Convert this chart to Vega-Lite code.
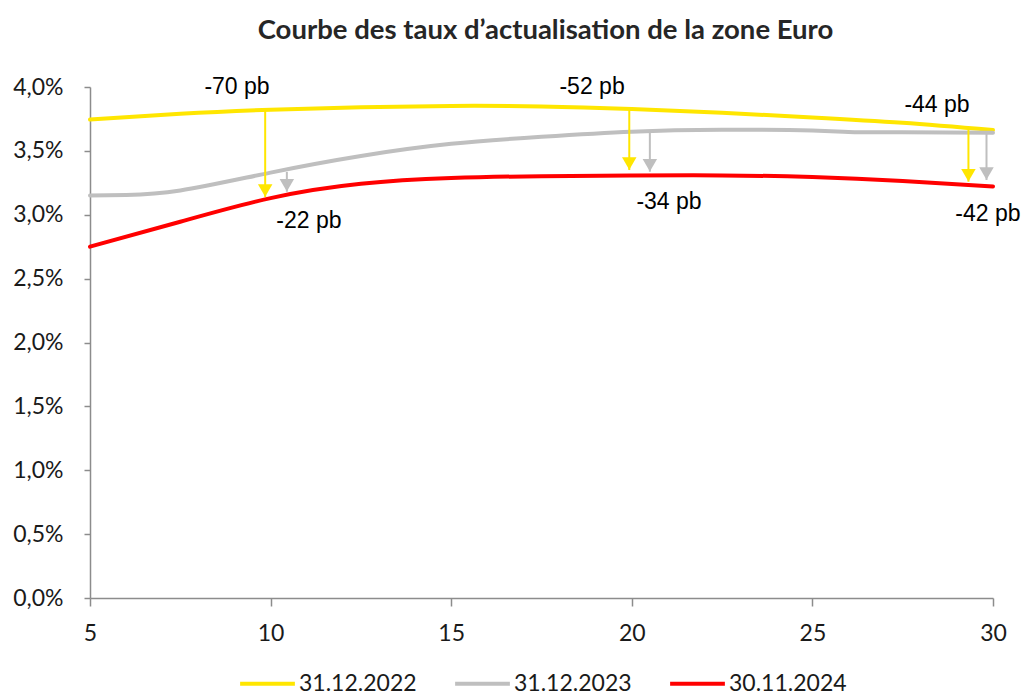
{
  "$schema": "https://vega.github.io/schema/vega-lite/v6.json",
  "autosize": "none",
  "width": 903,
  "height": 511,
  "padding": {"left": 90, "top": 87, "right": 30, "bottom": 96},
  "background": "white",
  "title": {
    "text": "Courbe des taux d’actualisation de la zone Euro",
    "font": "Lato",
    "fontSize": 27.5,
    "fontWeight": "bold",
    "color": "#262626",
    "anchor": "middle",
    "dx": 4,
    "offset": 32
  },
  "config": {
    "view": {"stroke": null},
    "axis": {"grid": false, "domainColor": "#8c8c8c", "tickColor": "#8c8c8c", "domainWidth": 1.5, "tickWidth": 1.5, "labelFont": "Lato", "labelFontSize": 23, "labelColor": "#1a1a1a", "title": null}
  },
  "datasets": {
    "courbes": [
      {"serie": "31.12.2022", "maturite": 5, "taux": 0.03745},
      {"serie": "31.12.2022", "maturite": 7.5, "taux": 0.0379},
      {"serie": "31.12.2022", "maturite": 10, "taux": 0.03822},
      {"serie": "31.12.2022", "maturite": 12.5, "taux": 0.03842},
      {"serie": "31.12.2022", "maturite": 15, "taux": 0.03852},
      {"serie": "31.12.2022", "maturite": 17.5, "taux": 0.03848},
      {"serie": "31.12.2022", "maturite": 20, "taux": 0.03828},
      {"serie": "31.12.2022", "maturite": 22.5, "taux": 0.03798},
      {"serie": "31.12.2022", "maturite": 25, "taux": 0.03762},
      {"serie": "31.12.2022", "maturite": 27.5, "taux": 0.0372},
      {"serie": "31.12.2022", "maturite": 30, "taux": 0.03663},
      {"serie": "31.12.2023", "maturite": 5, "taux": 0.0315},
      {"serie": "31.12.2023", "maturite": 6, "taux": 0.03155},
      {"serie": "31.12.2023", "maturite": 7.5, "taux": 0.0319},
      {"serie": "31.12.2023", "maturite": 10, "taux": 0.0333},
      {"serie": "31.12.2023", "maturite": 12.5, "taux": 0.0346},
      {"serie": "31.12.2023", "maturite": 15, "taux": 0.03555},
      {"serie": "31.12.2023", "maturite": 17.5, "taux": 0.0361},
      {"serie": "31.12.2023", "maturite": 20, "taux": 0.0365},
      {"serie": "31.12.2023", "maturite": 22.5, "taux": 0.03665},
      {"serie": "31.12.2023", "maturite": 25, "taux": 0.0366},
      {"serie": "31.12.2023", "maturite": 26, "taux": 0.03648},
      {"serie": "31.12.2023", "maturite": 27.5, "taux": 0.03645},
      {"serie": "31.12.2023", "maturite": 30, "taux": 0.03642},
      {"serie": "30.11.2024", "maturite": 5, "taux": 0.0275},
      {"serie": "30.11.2024", "maturite": 7.5, "taux": 0.02945},
      {"serie": "30.11.2024", "maturite": 10, "taux": 0.0313},
      {"serie": "30.11.2024", "maturite": 12.5, "taux": 0.03242},
      {"serie": "30.11.2024", "maturite": 15, "taux": 0.03287},
      {"serie": "30.11.2024", "maturite": 17.5, "taux": 0.03302},
      {"serie": "30.11.2024", "maturite": 20, "taux": 0.03307},
      {"serie": "30.11.2024", "maturite": 22.5, "taux": 0.03308},
      {"serie": "30.11.2024", "maturite": 25, "taux": 0.03295},
      {"serie": "30.11.2024", "maturite": 27.5, "taux": 0.03265},
      {"serie": "30.11.2024", "maturite": 30, "taux": 0.03222}
    ],
    "fleches": [
      {"serie": "31.12.2022", "maturite": 9.85, "depart": 0.0382, "arrivee": 0.03139},
      {"serie": "31.12.2023", "maturite": 10.45, "depart": 0.03335, "arrivee": 0.0318},
      {"serie": "31.12.2022", "maturite": 19.93, "depart": 0.03833, "arrivee": 0.0335},
      {"serie": "31.12.2023", "maturite": 20.5, "depart": 0.0365, "arrivee": 0.03337},
      {"serie": "31.12.2022", "maturite": 29.32, "depart": 0.03668, "arrivee": 0.03259},
      {"serie": "31.12.2023", "maturite": 29.82, "depart": 0.03642, "arrivee": 0.03272}
    ],
    "etiquettes": [
      {"maturite": 9.07, "taux": 0.04, "texte": "-70 pb"},
      {"maturite": 11.06, "taux": 0.02951, "texte": "-22 pb"},
      {"maturite": 18.9, "taux": 0.04, "texte": "-52 pb"},
      {"maturite": 21.03, "taux": 0.031, "texte": "-34 pb"},
      {"maturite": 28.45, "taux": 0.03859, "texte": "-44 pb"},
      {"maturite": 29.86, "taux": 0.03006, "texte": "-42 pb"}
    ]
  },
  "encoding": {
    "x": {"field": "maturite", "type": "quantitative", "scale": {"domain": [5, 30], "nice": false, "zero": false},
      "axis": {"values": [5, 10, 15, 20, 25, 30], "tickSize": 8, "labelPadding": 16, "labelFlush": false}},
    "y": {"field": "taux", "type": "quantitative", "scale": {"domain": [0, 0.04], "nice": false},
      "axis": {"values": [0, 0.005, 0.01, 0.015, 0.02, 0.025, 0.03, 0.035, 0.04], "tickSize": 6, "labelPadding": 21,
        "labelExpr": "replace(format(datum.value, '.1%'), '.', ',')"}}
  },
  "layer": [
    {
      "data": {"name": "courbes"},
      "mark": {"type": "line", "interpolate": "natural", "strokeCap": "round"},
      "encoding": {
        "color": {"field": "serie", "type": "nominal",
          "scale": {"domain": ["31.12.2022", "31.12.2023", "30.11.2024"], "range": ["#FFE600", "#BFBFBF", "#FF0000"]},
          "legend": {"title": null, "orient": "none", "direction": "horizontal", "legendX": 148, "legendY": 567,
            "symbolType": "stroke", "symbolSize": 3000, "symbolStrokeWidth": 4.5, "labelFont": "Lato", "labelFontSize": 23, "labelColor": "#1a1a1a", "labelOffset": 2, "columnPadding": 30}},
        "strokeWidth": {"field": "serie", "type": "nominal",
          "scale": {"domain": ["31.12.2022", "31.12.2023", "30.11.2024"], "range": [4, 4, 5.5]}, "legend": null}
      }
    },
    {
      "data": {"name": "fleches"},
      "mark": {"type": "rule", "strokeWidth": 2},
      "encoding": {
        "y": {"field": "depart", "type": "quantitative"},
        "y2": {"field": "arrivee"},
        "color": {"field": "serie", "type": "nominal", "legend": null}
      }
    },
    {
      "data": {"name": "fleches"},
      "mark": {"type": "point", "shape": "triangle-down", "filled": true, "opacity": 1, "size": 210, "yOffset": -6.5},
      "encoding": {
        "y": {"field": "arrivee", "type": "quantitative"},
        "color": {"field": "serie", "type": "nominal", "legend": null}
      }
    },
    {
      "data": {"name": "etiquettes"},
      "mark": {"type": "text", "font": "Liberation Sans", "fontSize": 23, "color": "#000000", "align": "center", "baseline": "middle"},
      "encoding": {
        "text": {"field": "texte"}
      }
    }
  ]
}
